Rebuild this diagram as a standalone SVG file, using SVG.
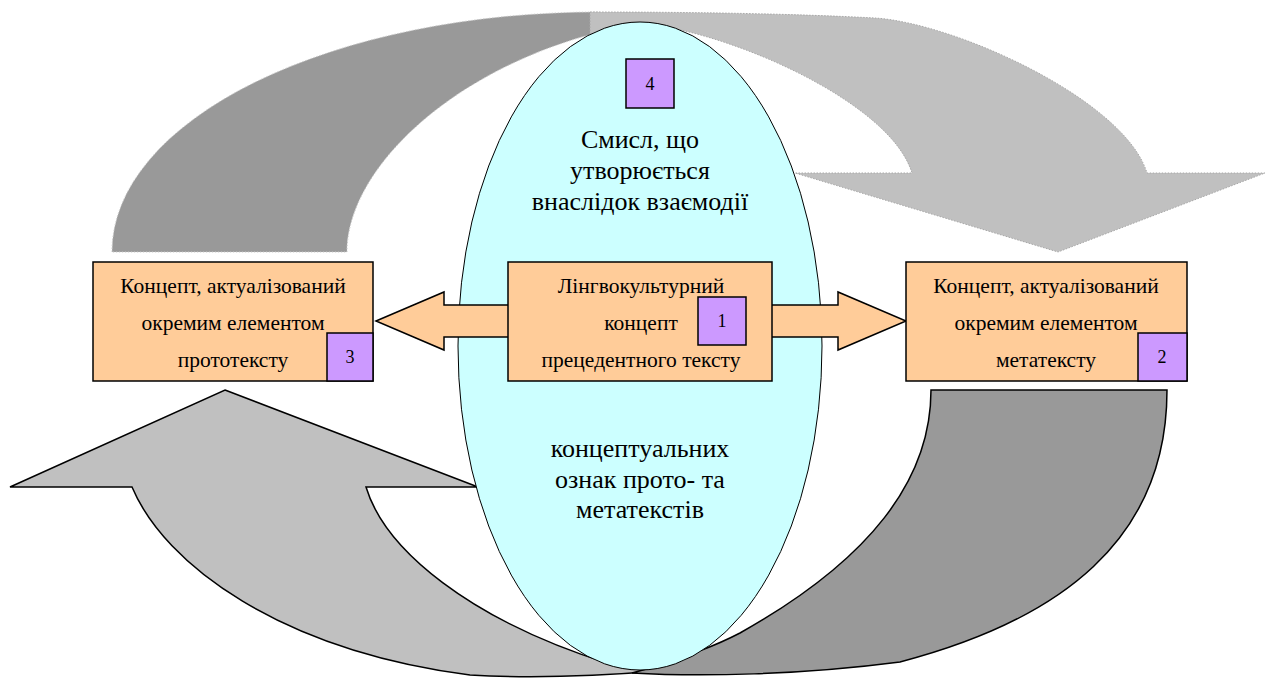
<svg xmlns="http://www.w3.org/2000/svg" width="1275" height="679" viewBox="0 0 1275 679">
<style>
.t{font-family:'Liberation Serif','Times New Roman',serif;fill:#000;text-anchor:middle}
.box{fill:#ffcc99;stroke:#000;stroke-width:1.5}
.num{fill:#cc99ff;stroke:#000;stroke-width:1.5}
.bt{font-size:21.5px}
.et{font-size:26px}
.nt{font-size:18px}
.topband{stroke-width:1;stroke-dasharray:1.5 1.5}
.botband{stroke:#000;stroke-width:1.5;stroke-linejoin:miter}
</style>
<rect width="1275" height="679" fill="#fff"/>
<g id="connectors">
  <path id="top-dark" class="topband" fill="#999999" stroke="#c8c8c8" d="M112,252 A488,240 0 0 1 600,12 L600,32 C450,70 347,170 347,252 Z"/>
  <path id="top-light" class="topband" fill="#c0c0c0" stroke="#a8a8a8" d="M590,12 C700,12 800,14 875,18 C955,23 1125,100 1147,173 L1265,173 L1058,252 L795,173 L912,173 C890,100 720,28 640,24 L590,34 Z"/>
  <path id="bottom-light" class="botband" fill="#c0c0c0" d="M225,390 L478,487 L366,487 C385,550 470,620 610,664 L650,668 L660,671 C610,675 540,679 470,675 C280,650 165,565 132,487 L10,487 Z"/>
  <path id="bottom-dark" class="botband" fill="#999999" d="M931,390 L1167,390 C1167,540 1060,620 900,662 C800,675 700,677 632,673 L650,668 C690,655 715,646 740,633 C870,560 931,480 931,390 Z"/>
</g>
<g id="node-4">
  <ellipse cx="640" cy="346" rx="182" ry="324" fill="#ccffff" stroke="#000" stroke-width="1"/>
  <rect class="num" x="626" y="59" width="48" height="49"/>
  <text class="t nt" x="650" y="90">4</text>
  <text class="t et" x="640" y="148">Смисл, що</text>
  <text class="t et" x="640" y="179">утворюється</text>
  <text class="t et" x="640" y="210">внаслідок взаємодії</text>
  <text class="t et" x="640" y="457">концептуальних</text>
  <text class="t et" x="640" y="488">ознак прото- та</text>
  <text class="t et" x="640" y="518">метатекстів</text>
</g>
<g id="node-1">
  <path class="box" d="M376,321 L444,292 L444,305 L838,305 L838,292 L906,321 L838,350 L838,337 L444,337 L444,350 Z"/>
  <rect class="box" x="508" y="262" width="264" height="119"/>
  <text class="t bt" x="641" y="293">Лінгвокультурний</text>
  <text class="t bt" x="641" y="330">концепт</text>
  <text class="t bt" x="641" y="367">прецедентного тексту</text>
  <rect class="num" x="698" y="297" width="48" height="48"/>
  <text class="t nt" x="722" y="327">1</text>
</g>
<g id="node-3">
  <rect class="box" x="93" y="262" width="280" height="119"/>
  <text class="t bt" x="233" y="293">Концепт, актуалізований</text>
  <text class="t bt" x="233" y="330">окремим елементом</text>
  <text class="t bt" x="233" y="367">прототексту</text>
  <rect class="num" x="327" y="333" width="46" height="48"/>
  <text class="t nt" x="350" y="363">3</text>
</g>
<g id="node-2">
  <rect class="box" x="906" y="262" width="281" height="119"/>
  <text class="t bt" x="1046" y="293">Концепт, актуалізований</text>
  <text class="t bt" x="1046" y="330">окремим елементом</text>
  <text class="t bt" x="1046" y="367">метатексту</text>
  <rect class="num" x="1138" y="333" width="49" height="48"/>
  <text class="t nt" x="1162" y="363">2</text>
</g>
</svg>
